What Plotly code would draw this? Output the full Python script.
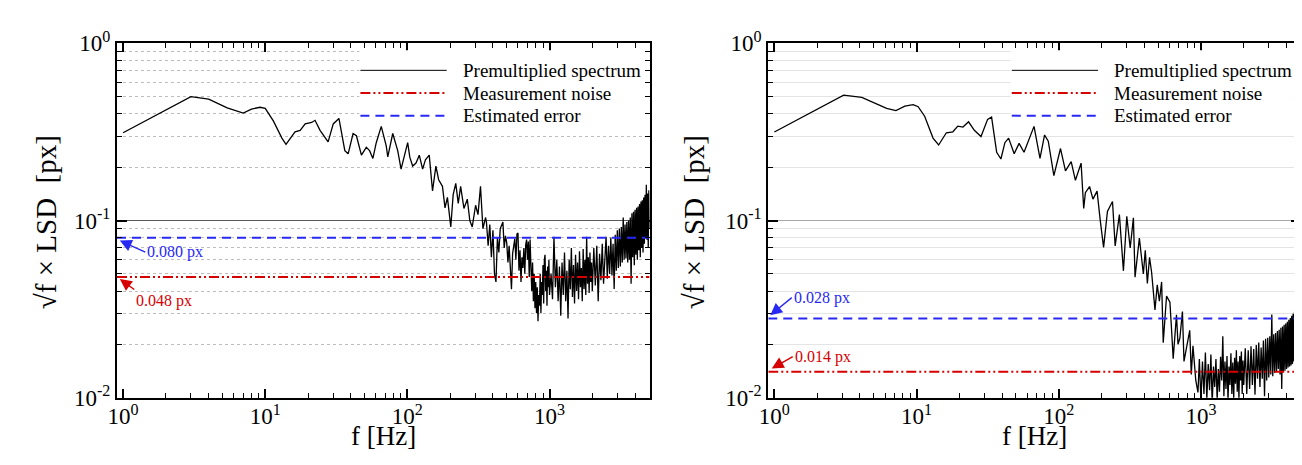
import math
import plotly.graph_objects as go

# ---------------- data ----------------
# Left panel: premultiplied spectrum, low-frequency part
left_f_low = [1, 2, 3, 4, 5.4, 7, 8, 9.2, 10, 11.4,
              13.1, 14, 16.2, 17.6, 19.1, 21.2, 22.4, 24.3, 27.7, 30.1,
              33, 36.3, 38.3, 41.5, 43.8, 47.5, 51.4, 54.2, 57.2, 60.4,
              65.5, 71, 72.8, 78.9, 85.5, 90.3, 100.5, 104, 108.9, 115,
              121.3, 128, 134, 142.5, 150.3, 158.7, 166, 176.5, 184, 191.3,
              202, 210, 219, 228, 237, 250, 264, 275, 286, 302,
              314, 327, 340, 355]
left_v_low = [0.313, 0.421, 0.501, 0.485, 0.433, 0.404, 0.426, 0.436, 0.430, 0.365,
              0.292, 0.269, 0.317, 0.323, 0.351, 0.358, 0.368, 0.323, 0.278, 0.351,
              0.377, 0.248, 0.238, 0.310, 0.301, 0.234, 0.259, 0.248, 0.224, 0.275,
              0.340, 0.264, 0.229, 0.310, 0.248, 0.195, 0.275, 0.228, 0.203, 0.211,
              0.234, 0.195, 0.220, 0.234, 0.147, 0.203, 0.170, 0.156, 0.118, 0.135,
              0.092, 0.140, 0.162, 0.125, 0.156, 0.117, 0.132, 0.100, 0.092, 0.122,
              0.108, 0.156, 0.090, 0.104]

# Left panel: mid-frequency part
left_f_mid = [360, 370, 380, 390, 400, 410, 420, 430, 440, 450,
              460, 470, 480, 490, 500, 510, 520, 530, 540, 550,
              560, 570, 580, 590, 600, 610, 620, 630, 640, 650,
              660, 670, 680, 690, 700, 710, 720, 730, 740, 750,
              760, 770, 780, 790, 800, 810, 820, 830, 840, 850,
              860, 870, 880, 890, 900, 910, 920, 930, 940, 950,
              960, 970, 980, 990, 1000]
left_v_mid = [0.098, 0.072, 0.095, 0.062, 0.088, 0.050, 0.045, 0.080, 0.066, 0.090,
              0.095, 0.098, 0.070, 0.082, 0.075, 0.058, 0.072, 0.048, 0.041, 0.065,
              0.070, 0.079, 0.060, 0.084, 0.085, 0.052, 0.068, 0.045, 0.062, 0.054,
              0.070, 0.050, 0.073, 0.078, 0.060, 0.076, 0.048, 0.078, 0.055, 0.040,
              0.058, 0.035, 0.050, 0.032, 0.045, 0.030, 0.042, 0.027, 0.038, 0.033,
              0.050, 0.030, 0.045, 0.038, 0.056, 0.034, 0.060, 0.064, 0.040, 0.052,
              0.033, 0.055, 0.042, 0.060, 0.038]

# High-frequency sample frequencies (shared by both panels)
hf_f_1 = [1025, 1050, 1075, 1100, 1125, 1150, 1175, 1200, 1225, 1250,
          1275, 1300, 1325, 1350, 1375, 1400, 1425, 1450, 1475, 1500,
          1525, 1550, 1575, 1600, 1625, 1650, 1675, 1700, 1725, 1750,
          1775, 1800, 1825, 1850, 1875, 1900, 1925, 1950, 1975, 2000]
hf_f_2 = [2050, 2100, 2150, 2200, 2250, 2300, 2350, 2400, 2450, 2500,
          2550, 2600, 2650, 2700, 2750, 2800, 2850, 2900, 2950, 3000,
          3050, 3100, 3150, 3200, 3250, 3300, 3350, 3400, 3450, 3500,
          3550, 3600, 3650, 3700, 3750, 3800, 3850, 3900, 3950, 4000,
          4050, 4100, 4150, 4200, 4250, 4300, 4350, 4400, 4450, 4500,
          4550, 4600, 4650, 4700, 4750, 4800, 4850, 4900, 4950, 5000,
          5050]

left_v_hf1 = [0.050, 0.036, 0.081, 0.042, 0.060, 0.035, 0.055, 0.029, 0.058, 0.038,
              0.066, 0.035, 0.052, 0.028, 0.060, 0.041, 0.070, 0.037, 0.056, 0.034,
              0.064, 0.040, 0.058, 0.036, 0.067, 0.042, 0.054, 0.035, 0.069, 0.041,
              0.060, 0.038, 0.081, 0.044, 0.062, 0.039, 0.066, 0.045, 0.058, 0.040]
left_v_hf2 = [0.070, 0.043, 0.072, 0.035, 0.065, 0.046, 0.074, 0.044, 0.067, 0.081,
              0.047, 0.072, 0.050, 0.080, 0.049, 0.074, 0.041, 0.083, 0.052, 0.088,
              0.054, 0.090, 0.055, 0.092, 0.058, 0.104, 0.060, 0.095, 0.061, 0.098,
              0.058, 0.100, 0.060, 0.104, 0.044, 0.110, 0.062, 0.112, 0.056, 0.115,
              0.064, 0.118, 0.060, 0.120, 0.068, 0.124, 0.062, 0.128, 0.070, 0.130,
              0.066, 0.135, 0.074, 0.140, 0.080, 0.159, 0.078, 0.142, 0.070, 0.148,
              0.090]

# Right panel: low/mid-frequency part
right_f_low = [1, 2, 3.07, 4.12, 6.16, 7.16, 8.27, 9.47, 10.26, 11.4,
               13.06, 14.3, 16.2, 18, 19.5, 21.2, 23.2, 25.5, 28.4, 31.6,
               33.7, 36.6, 39.2, 41.8, 44.4, 48.6, 52.6, 57, 61.8, 67,
               73.8, 79.5, 84.4, 92.4, 102.9, 111.5, 122.3, 131, 143.6, 149.8,
               153.9, 162, 164.7, 174, 186, 196, 206.7, 220, 238.8, 249.3,
               267, 285, 301, 318, 335, 344, 369, 393.6, 406, 420,
               435, 450, 475, 493, 510, 529, 543, 573, 605, 620,
               638, 673, 690, 711, 741, 760, 782, 834, 855, 879,
               920, 953, 975, 1000]
right_v_low = [0.316, 0.424, 0.510, 0.496, 0.430, 0.418, 0.442, 0.451, 0.439, 0.388,
               0.292, 0.267, 0.313, 0.317, 0.341, 0.337, 0.361, 0.323, 0.298, 0.3725,
               0.3835, 0.243, 0.2225, 0.275, 0.292, 0.238, 0.2727, 0.243, 0.286, 0.340,
               0.2244, 0.304, 0.2805, 0.1793, 0.255, 0.1905, 0.2153, 0.1687, 0.211, 0.117,
               0.1435, 0.1525, 0.1556, 0.132, 0.1465, 0.0995, 0.0705, 0.1124, 0.128, 0.0719,
               0.108, 0.052, 0.1057, 0.070, 0.1036, 0.0479, 0.0796, 0.0499, 0.068, 0.0441,
               0.062, 0.0509, 0.0313, 0.0433, 0.035, 0.045, 0.0204, 0.0375, 0.0346, 0.025,
               0.0166, 0.0294, 0.020, 0.0217, 0.0306, 0.016, 0.0181, 0.024, 0.0135, 0.0196,
               0.0125, 0.0107, 0.0165, 0.0095]

right_v_hf1 = [0.0160, 0.0105, 0.0180, 0.0098, 0.0155, 0.0110, 0.0175, 0.0092, 0.0150, 0.0115,
               0.0165, 0.0097, 0.0145, 0.0108, 0.0170, 0.0125, 0.0222, 0.0102, 0.0160, 0.0112,
               0.0172, 0.0096, 0.0150, 0.0118, 0.0178, 0.0105, 0.0158, 0.0099, 0.0168, 0.0120,
               0.0185, 0.0108, 0.0160, 0.0098, 0.0172, 0.0125, 0.0182, 0.0105, 0.0162, 0.0118]
right_v_hf2 = [0.0190, 0.0105, 0.0185, 0.0112, 0.0195, 0.0118, 0.0188, 0.0104, 0.0198, 0.0128,
               0.0205, 0.0115, 0.0192, 0.0128, 0.0210, 0.0102, 0.0215, 0.0125, 0.0218, 0.0130,
               0.0222, 0.0135, 0.0295, 0.0132, 0.0228, 0.0138, 0.0232, 0.0140, 0.0238, 0.0145,
               0.0242, 0.0135, 0.0248, 0.0112, 0.0252, 0.0140, 0.0258, 0.0142, 0.0262, 0.0145,
               0.0268, 0.0148, 0.0275, 0.0150, 0.0282, 0.0152, 0.0290, 0.0155, 0.0298, 0.0160,
               0.0305, 0.0162, 0.0310, 0.0148, 0.0318, 0.0168, 0.0330, 0.0170, 0.0335, 0.0175,
               0.0345]

noise_levels = [0.048, 0.014]   # measurement noise, left / right
error_levels = [0.080, 0.028]   # estimated error, left / right
noise_labels = ["0.048 px", "0.014 px"]
error_labels = ["0.080 px", "0.028 px"]

x_limits = [0.906, 5060]
y_limits = [0.01, 1.0]
x_tickvals = [1, 10, 100, 1000]
x_ticktext = ["10<sup>0</sup>", "10<sup>1</sup>", "10<sup>2</sup>", "10<sup>3</sup>"]
y_tickvals = [0.01, 0.1, 1]
y_ticktext = ["10<sup>-2</sup>", "10<sup>-1</sup>", "10<sup>0</sup>"]
legend_labels = ["Premultiplied spectrum", "Measurement noise", "Estimated error"]
x_title = "f [Hz]"
y_title = "\u221af \u00d7 LSD\u00a0 [px]"

left_f = left_f_low + left_f_mid + hf_f_1 + hf_f_2
left_v = left_v_low + left_v_mid + left_v_hf1 + left_v_hf2
right_f = right_f_low + hf_f_1 + hf_f_2
right_v = right_v_low + right_v_hf1 + right_v_hf2
assert len(left_f) == len(left_v) and len(right_f) == len(right_v)

# ---------------- styling ----------------
FONT = "Liberation Serif, Times New Roman, serif"
RED = "rgb(215,0,0)"
BLUE = "rgb(40,40,245)"
RED_DASH = "10px,3px,2px,3px,2px,3px"
BLUE_DASH = "9px,6px"
W, H = 1302, 465


def xf(px):
    return px / W


def yf(py):
    return 1 - py / H


x_domains = [[xf(100.7), xf(637.0)], [xf(756.5), xf(1293.0)]]
y_domain = [yf(398.5), yf(20.7)]
y_title_x = [29.5, 682.0]

minor_x = [m * 10 ** e for e in range(0, 4) for m in range(2, 10) if m * 10 ** e <= x_limits[1]]
minor_y = [m * 10 ** e for e in (-2, -1) for m in range(2, 10)]

fig = go.Figure()
panels = [(left_f, left_v), (right_f, right_v)]
for i, (f, v) in enumerate(panels):
    xa = "x" if i == 0 else "x2"
    ya = "y" if i == 0 else "y2"
    fig.add_trace(go.Scatter(x=f, y=v, xaxis=xa, yaxis=ya, mode="lines",
                             line=dict(color="black", width=1.3),
                             name=legend_labels[0], showlegend=False))
    fig.add_trace(go.Scatter(x=x_limits, y=[noise_levels[i]] * 2, xaxis=xa, yaxis=ya,
                             mode="lines", line=dict(color=RED, width=2, dash=RED_DASH),
                             name=legend_labels[1], showlegend=False))
    fig.add_trace(go.Scatter(x=x_limits, y=[error_levels[i]] * 2, xaxis=xa, yaxis=ya,
                             mode="lines", line=dict(color=BLUE, width=2, dash=BLUE_DASH),
                             name=legend_labels[2], showlegend=False))

tickfont = dict(family=FONT, size=23, color="black")
for i in range(2):
    sfx = "" if i == 0 else "2"
    gridstyle = (dict(gridcolor="#bdbdbd", griddash="dot") if i == 0
                 else dict(gridcolor="#e4e4e4", griddash="solid"))
    majorgrid = "#5a5a5a" if i == 0 else "#a8a8a8"
    fig.layout["xaxis" + sfx] = dict(
        type="log", domain=x_domains[i], anchor="y" + sfx,
        range=[math.log10(x_limits[0]), math.log10(x_limits[1])],
        tickmode="array", tickvals=x_tickvals, ticktext=x_ticktext,
        ticks="inside", ticklen=9, tickwidth=2, tickcolor="black", ticklabelstandoff=-3,
        showline=True, linecolor="black", linewidth=2, mirror="allticks",
        showgrid=False, zeroline=False, tickfont=tickfont,
        minor=dict(tickmode="array", tickvals=minor_x, ticks="inside", ticklen=5,
                   tickwidth=1, tickcolor="black", showgrid=False),
    )
    fig.layout["yaxis" + sfx] = dict(
        type="log", domain=y_domain, anchor="x" + sfx,
        range=[math.log10(y_limits[0]), math.log10(y_limits[1])],
        tickmode="array", tickvals=y_tickvals, ticktext=y_ticktext,
        ticks="inside", ticklen=10, tickwidth=2, tickcolor="black",
        showline=True, linecolor="black", linewidth=2, mirror="allticks",
        showgrid=True, gridcolor=majorgrid, gridwidth=1, zeroline=False, tickfont=tickfont,
        minor=dict(tickmode="array", tickvals=minor_y, ticks="inside", ticklen=5,
                   tickwidth=1, tickcolor="black", showgrid=True, gridwidth=1, **gridstyle),
    )
    # axis titles placed as labels next to each axis
    xc = (x_domains[i][0] + x_domains[i][1]) / 2
    fig.add_annotation(xref="paper", yref="paper", x=xc, y=yf(439), text=x_title,
                       showarrow=False, xanchor="center", yanchor="middle",
                       font=dict(family=FONT, size=27, color="black"))
    fig.add_annotation(xref="paper", yref="paper", x=xf(y_title_x[i]), y=yf(211),
                       text=y_title, textangle=-90, showarrow=False,
                       xanchor="center", yanchor="middle",
                       font=dict(family=FONT, size=29, color="black"))

# custom legends (white box + sample lines + labels), one per panel
row_y = [0.924, 0.860, 0.796]
styles = [dict(color="black", width=1), dict(color=RED, width=2, dash=RED_DASH),
          dict(color=BLUE, width=2, dash=BLUE_DASH)]
for i in range(2):
    sfx = "" if i == 0 else "2"
    xr, yr = "x" + sfx + " domain", "y" + sfx + " domain"
    fig.add_shape(type="rect", xref=xr, yref=yr, x0=0.455, x1=0.986, y0=0.77, y1=0.9807,
                  fillcolor="white", line=dict(width=0), layer="above")
    for k in range(3):
        fig.add_shape(type="line", xref=xr, yref=yr, x0=0.457, x1=0.619,
                      y0=row_y[k], y1=row_y[k], line=styles[k], layer="above")
        fig.add_annotation(xref=xr, yref=yr, x=0.645, y=row_y[k], text=legend_labels[k],
                           showarrow=False, xanchor="left", yanchor="middle",
                           font=dict(family=FONT, size=19, color="black"))

# value labels with arrows (reference pixel positions)
lab = [
    # (text, color, arrow tip px, tail px, text anchor side)
    (error_labels[0], BLUE, (103.5, 231.0), (129.0, 242.5), "middle"),
    (noise_labels[0], RED, (103.5, 272.0), (118.0, 282.5), "top"),
    (error_labels[1], BLUE, (758.5, 310.5), (780.0, 293.0), "middle"),
    (noise_labels[1], RED, (760.0, 367.5), (781.0, 355.5), "middle"),
]
for text, col, tip, tail, yanc in lab:
    fig.add_annotation(xref="paper", yref="paper", x=xf(tip[0]), y=yf(tip[1]),
                       ax=tail[0] - tip[0], ay=tail[1] - tip[1], text=text,
                       xanchor="left", yanchor=yanc, showarrow=True, arrowhead=2,
                       arrowsize=1.7, arrowwidth=1.4, arrowcolor=col,
                       font=dict(family=FONT, size=16, color=col))

fig.update_layout(width=W, height=H, margin=dict(l=0, r=0, t=0, b=0),
                  paper_bgcolor="white", plot_bgcolor="white", showlegend=False)

fig.write_html("out.html")
